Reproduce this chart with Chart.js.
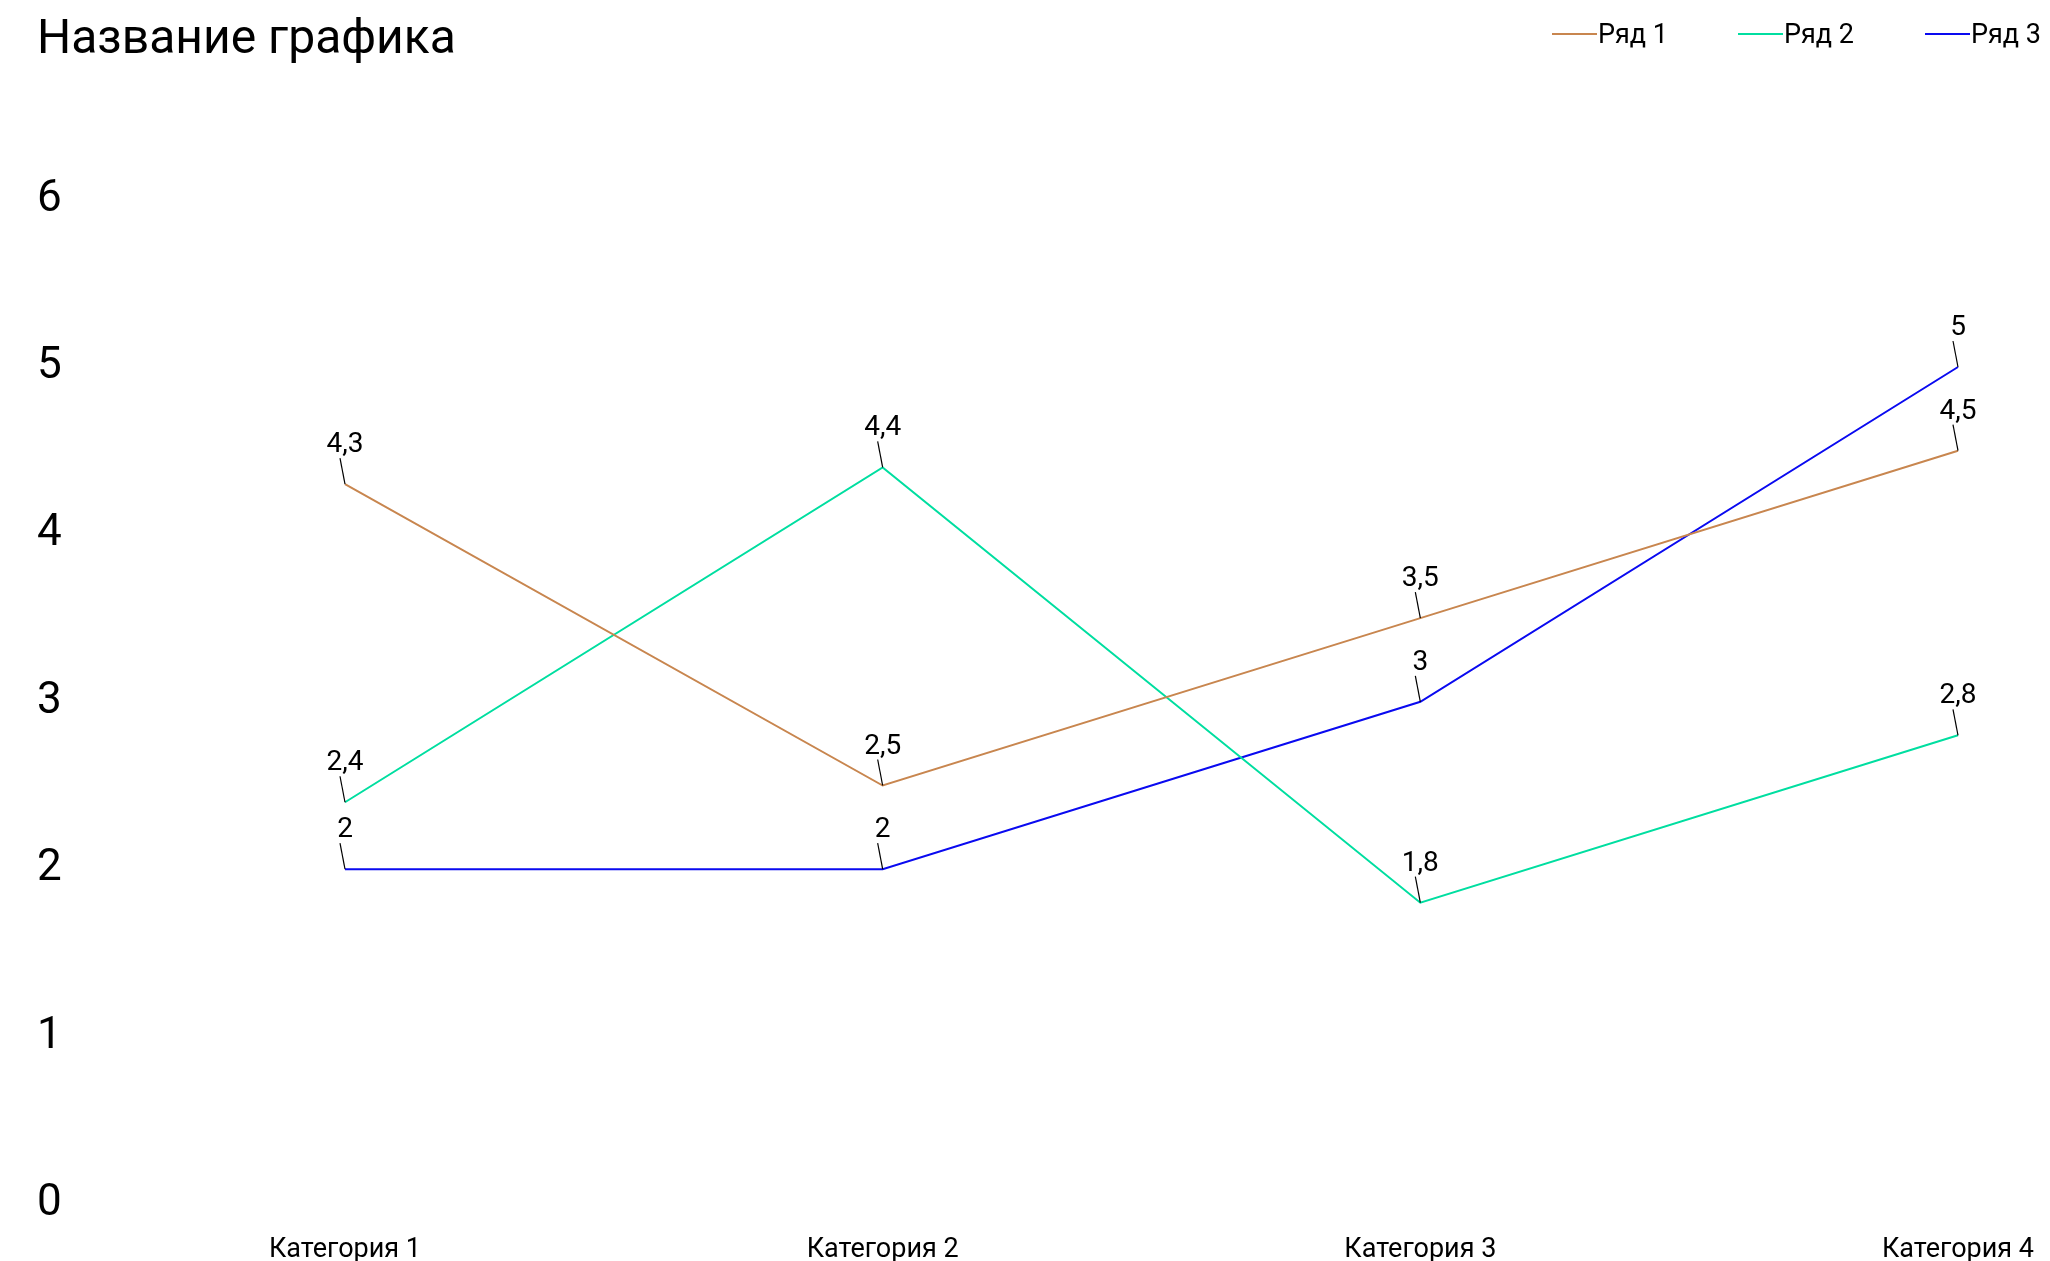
<!DOCTYPE html>
<html>
<head>
<meta charset="utf-8">
<script src="https://cdn.jsdelivr.net/npm/chart.js@4"></script>
<style>
    body { margin: 0; background: #fff; }
    #wrap { width: 2050px; height: 1261px; position: relative; }
</style>
</head>
<body>
<div id="wrap"><canvas id="line-chart"></canvas></div>
<script>
//================ DATA ================//
const chartTitle = 'Название графика';
const categories = ['Категория 1', 'Категория 2', 'Категория 3', 'Категория 4'];
const seriesNames = ['Ряд 1', 'Ряд 2', 'Ряд 3'];
const row1 = [4.3, 2.5, 3.5, 4.5];
const row2 = [2.4, 4.4, 1.8, 2.8];
const row3 = [2, 2, 3, 5];
const yTicks = [0, 1, 2, 3, 4, 5, 6];

const colors = ['#c8864f', '#00dea0', '#0a0af0'];
const fontName = 'Roboto, "Open Sans", sans-serif';

//================ PLUGINS ================//
// value labels with a small leader line above each point
const pointLabels = {
    id: 'pointLabels',
    afterDatasetsDraw(chart){
        const ctx = chart.ctx;
        ctx.save();
        chart.data.datasets.forEach(function(ds, i){
            const meta = chart.getDatasetMeta(i);
            meta.data.forEach(function(pt, j){
                const x = pt.x, y = pt.y;
                ctx.strokeStyle = '#000';
                ctx.lineWidth = 1.2;
                ctx.beginPath();
                ctx.moveTo(x, y);
                ctx.lineTo(x - 5, y - 26);
                ctx.stroke();
                ctx.fillStyle = '#000';
                ctx.font = '28px ' + fontName;
                ctx.textAlign = 'center';
                ctx.textBaseline = 'alphabetic';
                ctx.fillText(String(ds.data[j]).replace('.', ','), x, y - 32);
            });
        });
        ctx.restore();
    }
};

// legend at top right: line then text right after it
const topLegend = {
    id: 'topLegend',
    afterDraw(chart){
        const ctx = chart.ctx;
        const starts = [1552, 1738, 1925];
        ctx.save();
        ctx.font = '27px ' + fontName;
        ctx.textBaseline = 'middle';
        ctx.textAlign = 'left';
        chart.data.datasets.forEach(function(ds, i){
            const x = starts[i];
            ctx.strokeStyle = ds.borderColor;
            ctx.lineWidth = 2;
            ctx.beginPath();
            ctx.moveTo(x, 34);
            ctx.lineTo(x + 45, 34);
            ctx.stroke();
            ctx.fillStyle = '#000';
            ctx.fillText(ds.label, x + 46, 36);
        });
        ctx.restore();
    }
};

//================ CHART ================//
const allRows = [row1, row2, row3];
const datasets = seriesNames.map(function(name, i){
    return {
        label: name,
        data: allRows[i],
        borderColor: colors[i],
        backgroundColor: colors[i],
        borderWidth: 2,
        pointRadius: 0,
        tension: 0,
        fill: false
    };
});

const ctx = document.getElementById('line-chart').getContext('2d');
const myChart = new Chart(ctx, {
    type: 'line',
    data: { labels: categories, datasets: datasets },
    options: {
        responsive: true,
        maintainAspectRatio: false,
        animation: false,
        layout: { padding: { left: 37, right: 92, top: 0, bottom: 0 } },
        plugins: {
            legend: { display: false },
            tooltip: { enabled: false },
            title: {
                display: true,
                text: chartTitle,
                align: 'start',
                color: '#000',
                font: { family: fontName, size: 48, weight: 'normal' },
                padding: { top: 12, bottom: 130 }
            }
        },
        scales: {
            x: {
                afterFit(scale){
                    scale.height = 57;
                    scale.paddingLeft = 0;
                    scale.paddingRight = 0;
                },
                grid: { display: false, drawTicks: false },
                border: { display: false },
                ticks: {
                    color: '#000',
                    padding: 30,
                    maxRotation: 0,
                    font: { family: fontName, size: 27 }
                }
            },
            y: {
                min: yTicks[0],
                max: yTicks[yTicks.length - 1],
                afterBuildTicks(scale){
                    scale.ticks = yTicks.map(v => ({ value: v }));
                },
                afterFit(scale){
                    scale.width = 308;
                },
                grid: { display: false, drawTicks: false },
                border: { display: false },
                ticks: {
                    color: '#000',
                    crossAlign: 'far',
                    font: { family: fontName, size: 44 }
                }
            }
        }
    },
    plugins: [pointLabels, topLegend]
});
</script>
</body>
</html>
